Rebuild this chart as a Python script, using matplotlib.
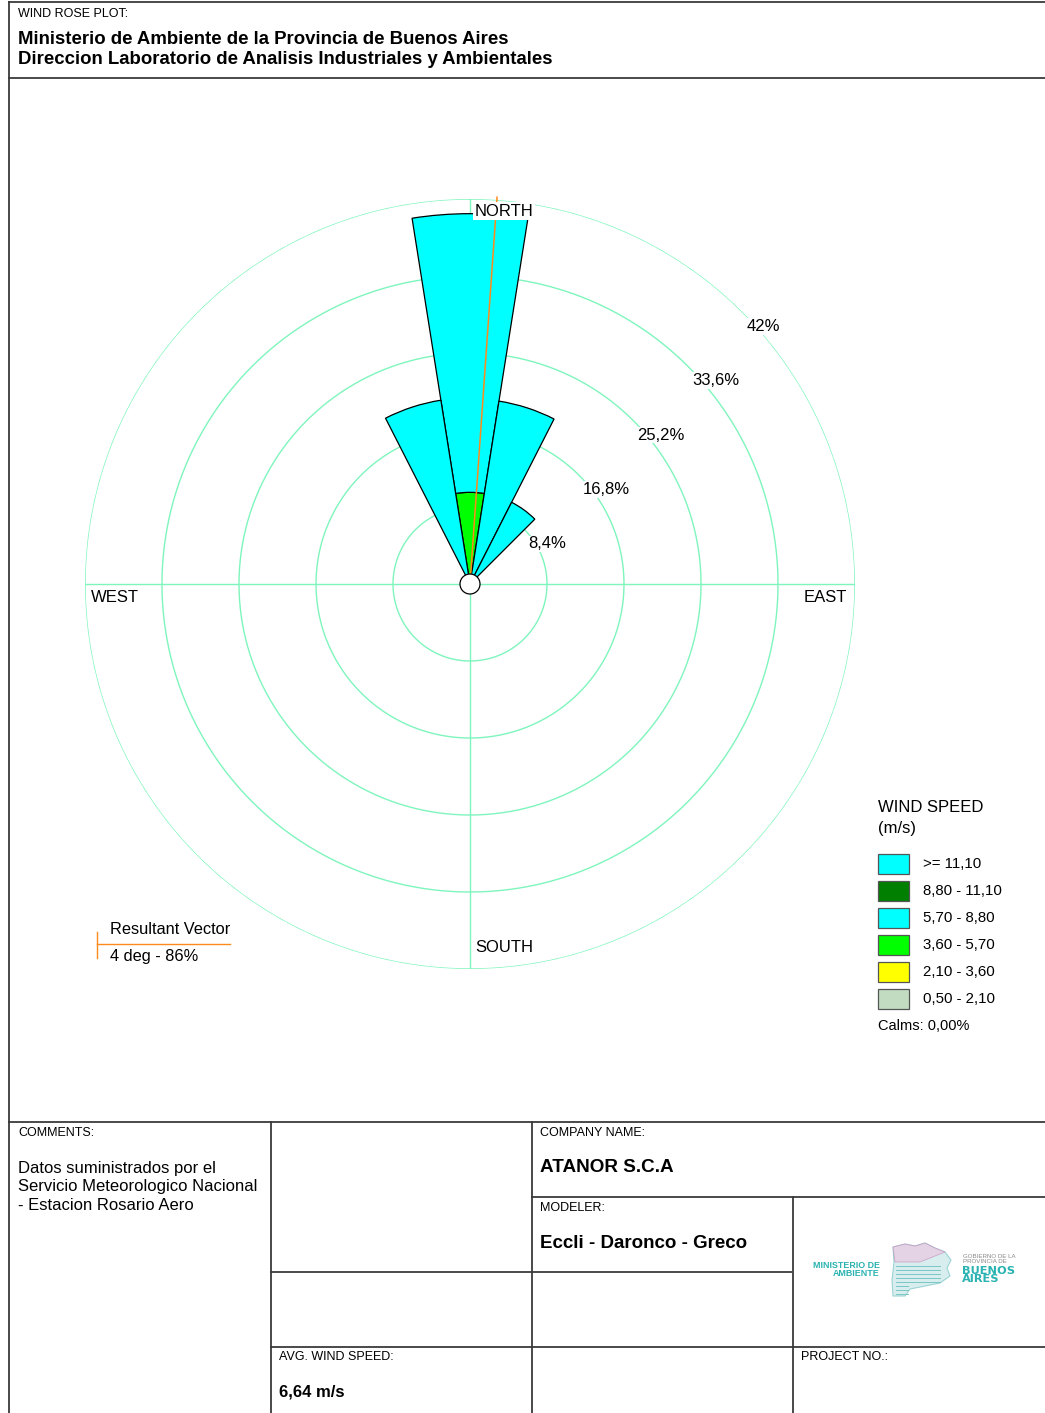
import numpy as np
import matplotlib
matplotlib.use("Agg")
import matplotlib.pyplot as plt
from matplotlib.patches import Rectangle, Circle, Polygon

plt.rcParams['font.family'] = ['Liberation Sans', 'DejaVu Sans']

# ---------------- data ----------------
directions_deg = [0, 18, 36, 342]          # sector centres (20 sectors of 18 deg)
sector_width_deg = 18
speed_bins = [">= 11,10", "8,80 - 11,10", "5,70 - 8,80", "3,60 - 5,70", "2,10 - 3,60", "0,50 - 2,10"]
speed_colors = ["#00ffff", "#007f00", "#00ffff", "#00ff00", "#ffff00", "#c2dcc2"]
# frequency (%) per bin, ordered from lowest speed to highest speed
freq_050_210 = [0.0, 0.0, 0.0, 0.0]
freq_210_360 = [0.0, 0.0, 0.0, 0.0]
freq_360_570 = [10.0, 0.0, 0.0, 0.0]
freq_570_880 = [30.4, 20.2, 10.0, 20.3]
freq_880_1110 = [0.0, 0.0, 0.0, 0.0]
freq_ge_1110 = [0.0, 0.0, 0.0, 0.0]
ring_values = [8.4, 16.8, 25.2, 33.6, 42.0]
ring_labels = ["8,4%", "16,8%", "25,2%", "33,6%", "42%"]
resultant_dir_deg = 4
resultant_len = 42.3
calms_text = "Calms: 0,00%"
avg_speed_text = "6,64 m/s"

W, H = 1045, 1413
fig = plt.figure(figsize=(W / 100, H / 100), dpi=100)
fig.patch.set_facecolor("white")

# ---------------- overlay (pixel coordinates) ----------------
ov = fig.add_axes([0, 0, 1, 1])
ov.set_xlim(0, W)
ov.set_ylim(H, 0)
ov.axis("off")

lc = "#3a3a3a"
lw = 1.3
def hline(y, x0, x1):
    ov.plot([x0, x1], [y, y], color=lc, lw=lw, solid_capstyle="butt")
def vline(x, y0, y1):
    ov.plot([x, x], [y0, y1], color=lc, lw=lw, solid_capstyle="butt")

hline(1.5, 8, W)
vline(8.5, 1, H)
hline(77.5, 8, W)
hline(1121.5, 8, W)
vline(270.5, 1121, H)
vline(531.5, 1121, H)
hline(1196.5, 531, W)
vline(792.5, 1196, H)
hline(1271.5, 270, 792)
hline(1346.5, 270, W)

# header texts
ov.text(18, 14, "WIND ROSE PLOT:", fontsize=9, va="center", ha="left")
ov.text(18, 39, "Ministerio de Ambiente de la Provincia de Buenos Aires", fontsize=13.4,
        fontweight="bold", va="center", ha="left")
ov.text(18, 60, "Direccion Laboratorio de Analisis Industriales y Ambientales", fontsize=13.4,
        fontweight="bold", va="center", ha="left")

# bottom table texts
ov.text(18, 1133, "COMMENTS:", fontsize=9, va="center")
ov.text(18, 1168, "Datos suministrados por el", fontsize=12, va="center")
ov.text(18, 1187, "Servicio Meteorologico Nacional", fontsize=12, va="center")
ov.text(18, 1205, "- Estacion Rosario Aero", fontsize=12, va="center")
ov.text(540, 1133, "COMPANY NAME:", fontsize=9, va="center")
ov.text(540, 1168, "ATANOR S.C.A", fontsize=13.6, fontweight="bold", va="center")
ov.text(540, 1208, "MODELER:", fontsize=9, va="center")
ov.text(540, 1243, "Eccli - Daronco - Greco", fontsize=13.5, fontweight="bold", va="center")
ov.text(279, 1357, "AVG. WIND SPEED:", fontsize=9, va="center")
ov.text(279, 1392, avg_speed_text, fontsize=12, fontweight="bold", va="center")
ov.text(801, 1357, "PROJECT NO.:", fontsize=9, va="center")

# logo (approximation)
teal = "#2ab3b1"
ov.text(880, 1269.5, "MINISTERIO DE\nAMBIENTE", fontsize=6.4, fontweight="bold", color=teal,
        ha="right", va="center", multialignment="right", linespacing=0.85)
map_pts = [(893, 1247), (905, 1244), (915, 1246), (925, 1243), (935, 1248), (945, 1252),
           (951, 1260), (947, 1268), (950, 1276), (940, 1283), (925, 1286), (910, 1289),
           (905, 1296), (893, 1296), (892, 1280), (894, 1262)]
ov.add_patch(Polygon(map_pts, closed=True, facecolor="#d8eeee", edgecolor="#9bd3d3", lw=0.8))
ov.add_patch(Polygon(map_pts[:6] + [(920, 1262), (895, 1262)], closed=True,
                     facecolor="#e8c8e0", edgecolor="#c890c0", lw=0.6, alpha=0.7))
for yy in range(1266, 1296, 4):
    ov.plot([896, 940 if yy < 1284 else 908], [yy, yy], color="#7cc6c6", lw=0.7)
ov.text(963, 1259, "GOBIERNO DE LA\nPROVINCIA DE", fontsize=4.4, color="#888888",
        ha="left", va="center", linespacing=0.95)
ov.text(962, 1275, "BUENOS\nAIRES", fontsize=8.2, fontweight="bold", color=teal,
        family="DejaVu Sans", ha="left", va="center", linespacing=0.78)

# speed legend
ov.text(878, 808, "WIND SPEED", fontsize=12, va="center")
ov.text(878, 829, "(m/s)", fontsize=12, va="center")
for i, (lab, col) in enumerate(zip(speed_bins, speed_colors)):
    yc = 864 + 27 * i
    ov.add_patch(Rectangle((878, yc - 10), 31, 20, facecolor=col, edgecolor="#555555", lw=0.9))
    ov.text(923, yc, lab, fontsize=10.8, va="center")
ov.text(878, 1026, calms_text, fontsize=10.5, va="center")

# resultant vector legend
orange = "#ff8a1c"
ov.plot([97, 97], [932, 958], color=orange, lw=1)
ov.plot([97, 230], [944, 944], color=orange, lw=1)
ov.text(110, 929, "Resultant Vector", fontsize=11.8, va="center")
ov.text(110, 957, f"{resultant_dir_deg} deg - 86%", fontsize=11.8, va="center")

# ---------------- wind rose (polar) ----------------
cx, cy, R = 470, 584, 385
ax = fig.add_axes([(cx - R) / W, (H - cy - R) / H, 2 * R / W, 2 * R / H], projection="polar")
ax.set_theta_zero_location("N")
ax.set_theta_direction(-1)
ax.set_ylim(0, ring_values[-1])
ax.grid(False)
ax.set_xticks([])
ax.set_yticks([])
ax.spines["polar"].set_visible(False)
ax.patch.set_alpha(0)

ring_color = "#7ef5bc"
tt = np.linspace(0, 2 * np.pi, 721)
for rv in ring_values:
    ax.plot(tt, np.full_like(tt, rv), color=ring_color, lw=1.0, zorder=1)
for a in [0, np.pi / 2]:
    ax.plot([a, a], [0, ring_values[-1]], color=ring_color, lw=1.0, zorder=1)
    ax.plot([a + np.pi, a + np.pi], [0, ring_values[-1]], color=ring_color, lw=1.0, zorder=1)

theta = np.deg2rad(directions_deg)
width = np.deg2rad(sector_width_deg)
stack = [freq_050_210, freq_210_360, freq_360_570, freq_570_880, freq_880_1110, freq_ge_1110]
stack_colors = speed_colors[::-1]
bottom = np.zeros(len(directions_deg))
for vals, col in zip(stack, stack_colors):
    vals = np.asarray(vals)
    mask = vals > 0
    if mask.any():
        ax.bar(theta[mask], vals[mask], width=width, bottom=bottom[mask], color=col,
               edgecolor="black", linewidth=0.9, zorder=3, align="center")
    bottom = bottom + vals

ax.plot([np.deg2rad(resultant_dir_deg)] * 2, [0, resultant_len], color=orange, lw=1.1,
        zorder=5, clip_on=False)

ax.add_patch(Circle((0.5, 0.5), 10 / (2 * R), transform=ax.transAxes, facecolor="white",
                    edgecolor="black", lw=0.9, zorder=6))

for rv, lab in zip(ring_values, ring_labels):
    ax.annotate(lab, xy=(np.deg2rad(45), rv), xytext=(3.0, -5.0), textcoords="offset points",
                ha="left", va="top", fontsize=12, zorder=7,
                bbox=dict(boxstyle="square,pad=0.05", facecolor="white", edgecolor="none"))

ov.set_zorder(0)
ax.set_zorder(1)

# direction labels (over the rose)
top = fig.add_axes([0, 0, 1, 1])
top.set_xlim(0, W)
top.set_ylim(H, 0)
top.axis("off")
top.patch.set_alpha(0)
top.set_zorder(2)
bb = dict(boxstyle="square,pad=0.1", facecolor="white", edgecolor="none")
top.text(cx + 5, 211, "NORTH", fontsize=12, va="center", ha="left", bbox=bb)
top.text(cx + 5, 948, "SOUTH", fontsize=12, va="center", ha="left")
top.text(91, 597, "WEST", fontsize=12, va="center", ha="left")
top.text(847, 597, "EAST", fontsize=12, va="center", ha="right")

fig.savefig("out.png", dpi=100, facecolor="white")
